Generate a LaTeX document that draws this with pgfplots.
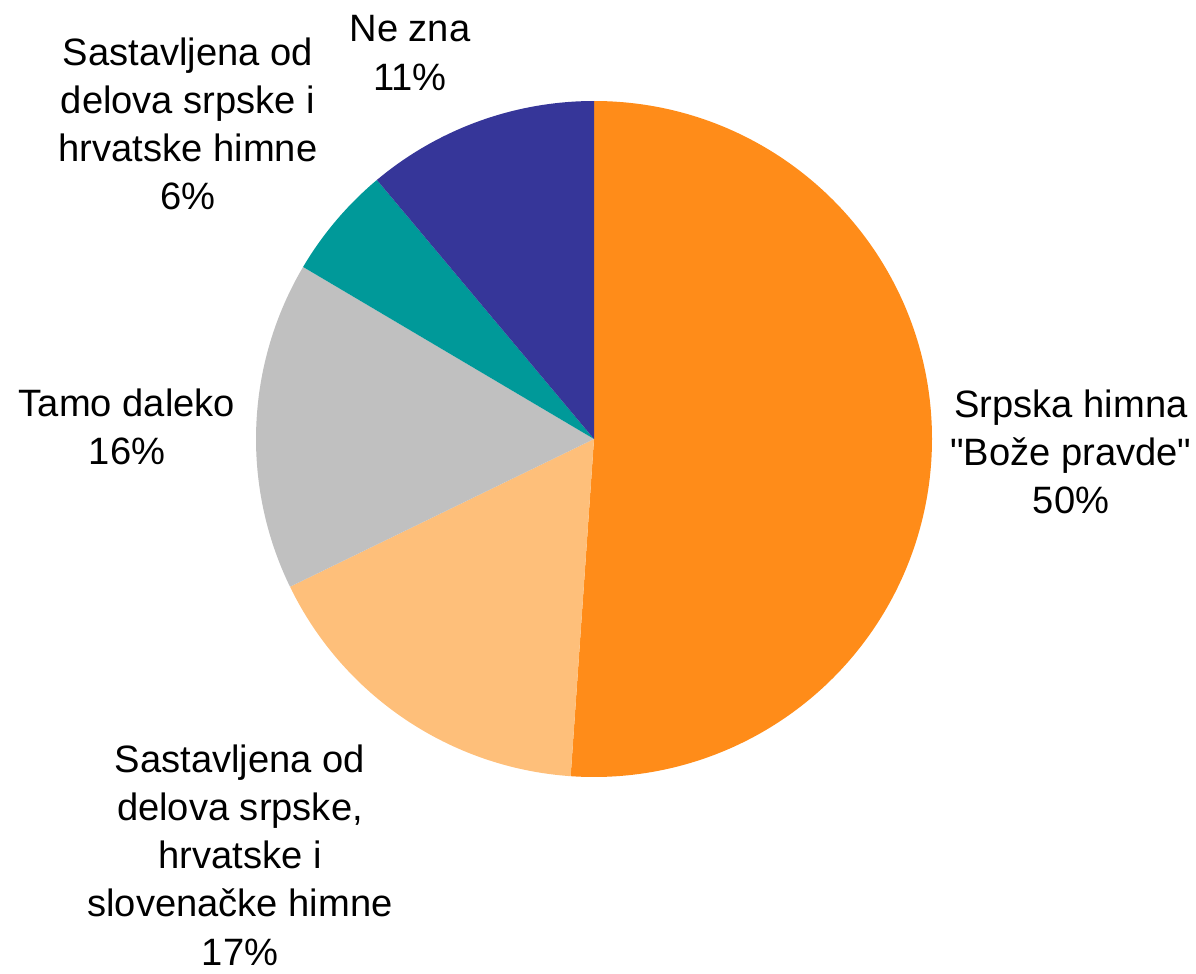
\documentclass[border=0pt]{standalone}
\usepackage{pgfplots}
\usepackage{pgfplotstable}
\pgfplotsset{compat=1.18}
\usepackage{fontspec}
\setmainfont{Liberation Sans}[Ligatures=TeXOff]

\definecolor{himnaorange}{RGB}{255,140,25}
\definecolor{himnalight}{RGB}{254,191,122}
\definecolor{himnagray}{RGB}{192,192,192}
\definecolor{himnateal}{RGB}{0,153,153}
\definecolor{himnanavy}{RGB}{54,54,153}

% share of answers, clockwise from 12 o'clock
\pgfplotstableread[col sep=comma]{
share,colour
51.1,himnaorange
16.7,himnalight
15.7,himnagray
5.4,himnateal
11.1,himnanavy
}\piedata

\begin{document}
\begin{tikzpicture}[
    lbl/.style={font=\fontsize{21.7}{27.4}\selectfont, align=center, inner sep=0pt},
]
\begin{axis}[
    width=23.92cm, height=19.48cm,
    scale only axis,
    xmin=0, xmax=1196,
    ymin=0, ymax=974,
    y dir=reverse,
    hide axis,
    clip=false,
]
\pgfplotsextra{
    \gdef\cum{0}
    \foreach \i in {0,...,4}{
        \pgfplotstablegetelem{\i}{share}\of\piedata \let\pv\pgfplotsretval
        \pgfplotstablegetelem{\i}{colour}\of\piedata \let\pc\pgfplotsretval
        \pgfmathsetmacro\sa{90-3.6*\cum}
        \pgfmathsetmacro\sb{90-3.6*(\cum+\pv)}
        \fill[fill=\pc] (axis cs:594,439) -- ++(\sa:6.76cm)
            arc[start angle=\sa, end angle=\sb, radius=6.76cm] -- cycle;
        \pgfmathsetmacro\nc{\cum+\pv}\xdef\cum{\nc}
    }
}
\node[lbl] at (axis cs:1071,452) {Srpska himna\\"Bože pravde"\\50\%};
\node[lbl] at (axis cs:240,855) {Sastavljena od\\delova srpske,\\hrvatske i\\slovenačke himne\\17\%};
\node[lbl] at (axis cs:127,427) {Tamo daleko\\16\%};
\node[lbl] at (axis cs:188,124) {Sastavljena od\\delova srpske i\\hrvatske himne\\6\%};
\node[lbl] at (axis cs:410,53) {Ne zna\\11\%};
\end{axis}
\pgfresetboundingbox
\path (current axis.south west) rectangle (current axis.north east);
\end{tikzpicture}
\end{document}
